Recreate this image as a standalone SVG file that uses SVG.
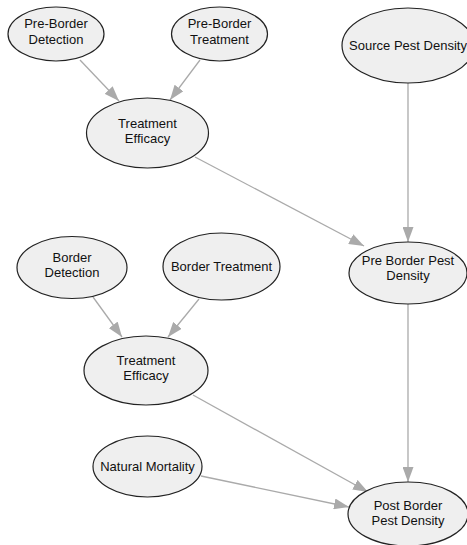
<svg xmlns="http://www.w3.org/2000/svg" width="467" height="545" viewBox="0 0 467 545">
  <style>
    .node ellipse { fill: #efefef; stroke: #222222; stroke-width: 1.2; }
    .node text { font-family: "Liberation Sans", Arial, sans-serif; font-size: 13px; fill: #111111; text-anchor: middle; }
    .edge { stroke: #aaaaaa; stroke-width: 1.3; fill: none; marker-end: url(#arrow); }
  </style>
  <defs>
    <marker id="arrow" markerUnits="userSpaceOnUse" markerWidth="15" markerHeight="11" refX="15" refY="5.5" orient="auto">
      <path d="M0,0 L15,5.5 L0,11 z" fill="#aaaaaa"/>
    </marker>
  </defs>
  <rect width="467" height="545" fill="#ffffff"/>

  <g id="edges">
    <line class="edge" x1="80" y1="60" x2="119" y2="101"/>
    <line class="edge" x1="200" y1="60" x2="170" y2="100"/>
    <line class="edge" x1="195" y1="157" x2="364" y2="246"/>
    <line class="edge" x1="408" y1="83" x2="408" y2="242"/>
    <line class="edge" x1="93" y1="297" x2="122" y2="337"/>
    <line class="edge" x1="199" y1="299" x2="168" y2="337"/>
    <line class="edge" x1="193" y1="395" x2="368" y2="492"/>
    <line class="edge" x1="201" y1="476" x2="349" y2="507"/>
    <line class="edge" x1="408" y1="304" x2="408" y2="482"/>
  </g>

  <g id="pre-border-detection" class="node">
    <ellipse cx="56" cy="34" rx="48" ry="27"/>
    <text x="56" y="28">Pre-Border</text>
    <text x="56" y="44">Detection</text>
  </g>
  <g id="pre-border-treatment" class="node">
    <ellipse cx="219.5" cy="34" rx="48" ry="27"/>
    <text x="219.5" y="28">Pre-Border</text>
    <text x="219.5" y="44">Treatment</text>
  </g>
  <g id="treatment-efficacy-1" class="node">
    <ellipse cx="147.5" cy="133" rx="61" ry="35"/>
    <text x="147.5" y="128">Treatment</text>
    <text x="147.5" y="143">Efficacy</text>
  </g>
  <g id="source-pest-density" class="node">
    <ellipse cx="408" cy="45.5" rx="66" ry="37.5"/>
    <text x="408" y="50">Source Pest Density</text>
  </g>
  <g id="pre-border-pest-density" class="node">
    <ellipse cx="408" cy="273" rx="59" ry="31"/>
    <text x="408" y="265">Pre Border Pest</text>
    <text x="408" y="280">Density</text>
  </g>
  <g id="border-detection" class="node">
    <ellipse cx="72" cy="267.5" rx="55" ry="31"/>
    <text x="72" y="262">Border</text>
    <text x="72" y="277">Detection</text>
  </g>
  <g id="border-treatment" class="node">
    <ellipse cx="221.5" cy="266.5" rx="58.5" ry="33.5"/>
    <text x="221.5" y="271">Border Treatment</text>
  </g>
  <g id="treatment-efficacy-2" class="node">
    <ellipse cx="146" cy="370.5" rx="62" ry="34.5"/>
    <text x="146" y="365">Treatment</text>
    <text x="146" y="380">Efficacy</text>
  </g>
  <g id="natural-mortality" class="node">
    <ellipse cx="147.5" cy="466.5" rx="54.5" ry="30.5"/>
    <text x="147.5" y="471">Natural Mortality</text>
  </g>
  <g id="post-border-pest-density" class="node">
    <ellipse cx="408" cy="514" rx="60" ry="32"/>
    <text x="408" y="510">Post Border</text>
    <text x="408" y="525">Pest Density</text>
  </g>
</svg>
